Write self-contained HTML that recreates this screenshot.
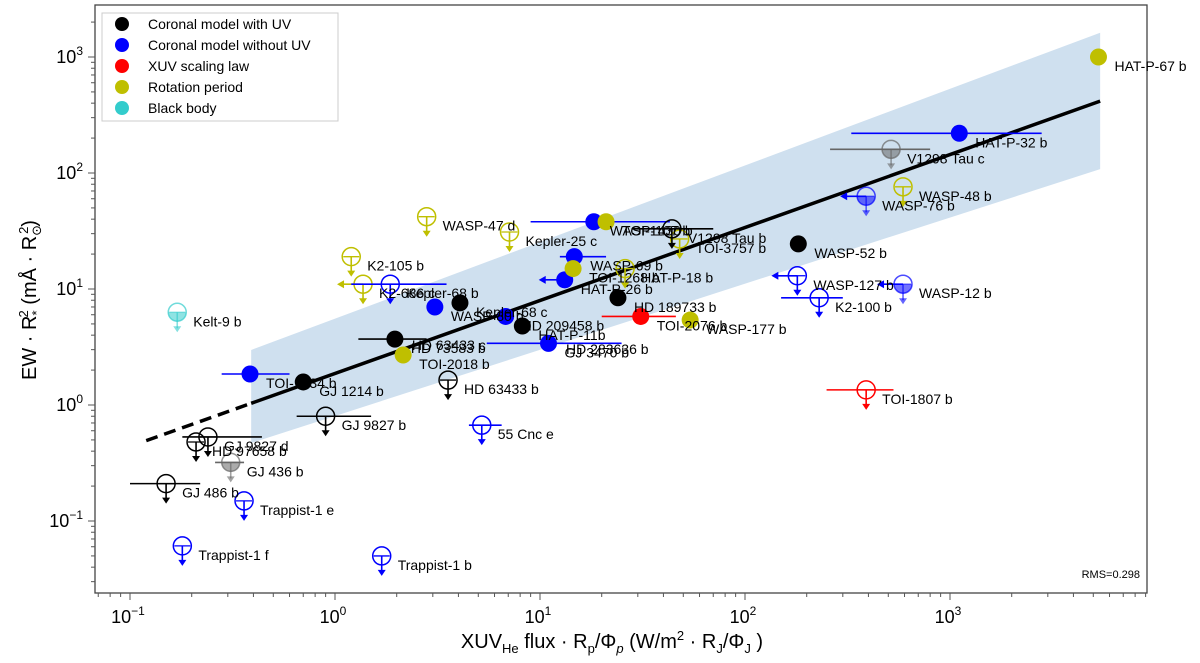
<!DOCTYPE html>
<html><head><meta charset="utf-8"><style>
body{margin:0;background:#fff;}
svg{display:block;font-family:"Liberation Sans","DejaVu Sans",sans-serif;}
</style></head><body>
<svg id="chart" width="1200" height="663" viewBox="0 0 1200 663">
<g id="band"></g>
<g id="axes"></g>
<g id="marks"></g>
<g id="labels"></g>
<g id="legend">
<rect x="102" y="13" width="236" height="108" fill="#fff" stroke="#ccc"/>
</g>
<text x="1140" y="578" font-size="11" text-anchor="end">RMS=0.298</text>
<text x="612" y="648" font-size="20" text-anchor="middle">XUV<tspan font-size="13" dy="5">He</tspan><tspan dy="-5"> flux · R</tspan><tspan font-size="13" dy="5">p</tspan><tspan dy="-5">/Φ</tspan><tspan font-size="13" dy="5" font-style="italic">p</tspan><tspan dy="-5"> (W/m</tspan><tspan font-size="13" dy="-8">2</tspan><tspan dy="8"> · R</tspan><tspan font-size="13" dy="5">J</tspan><tspan dy="-5">/Φ</tspan><tspan font-size="13" dy="5">J</tspan><tspan dy="-5"> )</tspan></text>
<text transform="translate(36,300) rotate(-90)" font-size="20" text-anchor="middle">EW · R<tspan font-size="13" dy="5">*</tspan><tspan font-size="13" dy="-13" dx="-7">2</tspan><tspan dy="8"> (mÅ · R</tspan><tspan font-size="13" dy="5">⊙</tspan><tspan font-size="13" dy="-13" dx="-9">2</tspan><tspan dy="8">)</tspan></text>
</svg>
<script>
const names=["TOI-1434 b","GJ 1214 b","HD 73583 b","WASP-80 b","HAT-P-11b","HD 189733 b","WASP-52 b","Kepler-68 c","HD 209458 b","GJ 3470 b","HAT-P-26 b","WASP-69 b","WASP-107 b","HAT-P-32 b","TOI-2076 b","TOI-2018 b","TOI-1268 b","TOI-1430 b","WASP-177 b","HAT-P-67 b","K2-105 b","K2-686 c","WASP-47 d","Kepler-25 c","HAT-P-18 b","TOI-3757 b","WASP-48 b","Trappist-1 e","Trappist-1 f","Trappist-1 b","55 Cnc e","Kepler-68 b","WASP-127 b","K2-100 b","WASP-76 b","WASP-12 b","GJ 9827 b","HD 63433 b","GJ 9827 d","HD 97658 b","GJ 486 b","GJ 436 b","V1298 Tau c","V1298 Tau b","Kelt-9 b","TOI-1807 b","HD 63433 c","HD 283636 b"];
const xVals=[0.385,0.70,1.96,3.07,8.2,24,182,4.07,6.8,11,13.2,14.7,18.3,1110,31,2.15,14.5,21,54,5300,1.2,1.37,2.8,7.1,26,48,590,0.36,0.18,1.69,5.2,1.86,180,230,390,590,0.9,3.56,0.24,0.21,0.15,0.31,516,44,0.17,390,2.37,13.4];
const yVals=[1.85,1.58,3.7,7.0,4.8,8.4,24.5,7.6,5.8,3.4,12,19,38,220,5.8,2.7,15,38,5.4,1000,19,11,42,31,15,27,76,0.149,0.061,0.05,0.67,11,13,8.4,63,11,0.8,1.64,0.53,0.48,0.21,0.32,160,33,6.3,1.35,2.98,2.75];
const kinds=["fill","fill","fill","fill","fill","fill","fill","fill","fill","fill","fill","fill","fill","fill","fill","fill","fill","fill","fill","fill","open","open","open","open","open","open","open","open","open","open","open","open","open","open","half","half","open","open","open","open","open","half","half","open","half","open","none","none"];
const colors=["blue","black","black","blue","black","black","black","black","blue","blue","blue","blue","blue","blue","red","y","y","y","y","y","y","y","y","y","y","y","y","blue","blue","blue","blue","blue","blue","blue","blue","blue","black","black","black","black","black","gray","gray","black","cyan","red","black","black"];
const xErrLo=[0.28,0,1.3,2.2,0,0,0,0,0,5.5,0,12.5,9,330,20,0,0,0,0,0,0,0,0,0,0,0,0,0,0,0,4.5,1.2,0,150,0,0,0.65,0,0.18,0,0.1,0.26,260,28,0,250,0,0];
const xErrHi=[0.6,0,2.8,0,0,0,195,0,0,25,0,21,43,2800,46,0,0,0,0,0,0,0,0,0,0,0,0,0,0,0,6.5,3.5,0,300,0,0,1.5,0,0.44,0,0.22,0.36,800,70,0,530,0,0];
const leftArrow=[0,0,0,0,0,0,0,0,0,0,1,0,0,0,0,0,0,0,0,0,0,1,0,0,0,0,0,0,0,0,0,0,1,0,1,1,0,0,0,0,0,0,0,0,0,0,0,0];
const legendLabels=["Coronal model with UV","Coronal model without UV","XUV scaling law","Rotation period","Black body"];
const legendColors=["black","blue","red","y","cyan"];
const xTickExp=[-1,0,1,2,3];
const yTickExp=[-1,0,1,2,3];
const fitX=[0.12,0.39,5400];
const fitSlope=0.629, fitAt1=1.87;
const bandX=[0.39,5400];
const bandTop=[2.98,1620];
const bandBot=[0.47,108];

const NS="http://www.w3.org/2000/svg";
const L=95,R=1147,T=5,B=593;
const sx=v=>335+205*Math.log10(v);
const sy=v=>405-116*Math.log10(v);
const C={black:"#000",blue:"#0000ff",red:"#ff0000",y:"#bfbf00",cyan:"#3cc",gray:"#666"};
function mk(p,tag,at){const e=document.createElementNS(NS,tag);for(const k in at)e.setAttribute(k,at[k]);p.appendChild(e);return e;}
const band=document.getElementById('band'),axes=document.getElementById('axes'),marks=document.getElementById('marks'),labels=document.getElementById('labels'),legend=document.getElementById('legend');

let pts=[];
bandX.forEach((v,i)=>pts.push(sx(v)+','+sy(bandTop[i])));
for(let i=bandX.length-1;i>=0;i--)pts.push(sx(bandX[i])+','+sy(bandBot[i]));
const bp=mk(band,'polygon',{points:pts.join(' '),fill:"#cfe0ef"});



const fr=mk(axes,'rect',{x:L,y:T,width:R-L,height:B-T,fill:"none",stroke:"#444","stroke-width":1.3});


for(let e=-2;e<=4;e++){for(let m=1;m<10;m++){const v=m*Math.pow(10,e);const x=sx(v);if(x>=L&&x<=R){const t=mk(axes,'line',{x1:x,x2:x,y1:B,y2:B+(m==1?7:4),stroke:"#555"});}
const y=sy(v);if(y>=T&&y<=B){const t=mk(axes,'line',{x1:L,x2:L-(m==1?7:4),y1:y,y2:y,stroke:"#555"});}}}
xTickExp.forEach(e=>{const t=mk(axes,'text',{x:sx(Math.pow(10,e))-2,y:B+30,"font-size":18,"text-anchor":"middle"});t.innerHTML=`10<tspan font-size="12" dy="-8">${e<0?'−'+(-e):e}</tspan>`;});
yTickExp.forEach(e=>{const t=mk(axes,'text',{x:L-12,y:sy(Math.pow(10,e))+6,"font-size":18,"text-anchor":"end"});t.innerHTML=`10<tspan font-size="12" dy="-8">${e<0?'−'+(-e):e}</tspan>`;});

const f=v=>fitAt1*Math.pow(v,fitSlope);
const d1=mk(marks,'line',{x1:sx(fitX[0]),y1:sy(f(fitX[0])),x2:sx(fitX[1]),y2:sy(f(fitX[1])),stroke:"#000","stroke-width":3.5,"stroke-dasharray":"12,7"});


const d2=mk(marks,'line',{x1:sx(fitX[1]),y1:sy(f(fitX[1])),x2:sx(fitX[2]),y2:sy(f(fitX[2])),stroke:"#000","stroke-width":3.5});



names.forEach((n,i)=>{
 const k=kinds[i];const x=sx(xVals[i]),y=sy(yVals[i]);const c=C[colors[i]];
 const g=mk(marks,'g',{});
 
 
 if(k!=='none'){
  if(xErrLo[i]&&xErrHi[i]) mk(g,'line',{x1:sx(xErrLo[i]),x2:sx(xErrHi[i]),y1:y,y2:y,stroke:c,"stroke-width":1.6});
  else if(xErrHi[i]) mk(g,'line',{x1:x,x2:sx(xErrHi[i]),y1:y,y2:y,stroke:c,"stroke-width":1.6});
  if(leftArrow[i]){mk(g,'line',{x1:x,x2:x-22,y1:y,y2:y,stroke:c,"stroke-width":1.6});mk(g,'polygon',{points:`${x-26},${y} ${x-19},${y-4} ${x-19},${y+4}`,fill:c});}
  if(k==='fill'){mk(g,'circle',{cx:x,cy:y,r:8.5,fill:c});}
  else{
   mk(g,'line',{x1:x,x2:x,y1:y,y2:y+16,stroke:c,"stroke-width":1.6,opacity:k==='half'?0.6:1});
   mk(g,'polygon',{points:`${x-4},${y+14} ${x+4},${y+14} ${x},${y+20}`,fill:c,opacity:k==='half'?0.6:1});
   if(k==='half') mk(g,'path',{d:`M${x-9},${y} A9,9 0 0 0 ${x+9},${y} Z`,fill:c,opacity:0.55});
   mk(g,'line',{x1:x-8,x2:x+8,y1:y,y2:y,stroke:c,"stroke-width":1.3,opacity:k==='half'?0.6:1});
   mk(g,'circle',{cx:x,cy:y,r:9,fill:"none",stroke:c,"stroke-width":1.5,opacity:k==='half'?0.7:1});
  }
 }
 const t=mk(labels,'text',{x:x+(k==='none'?0:16),y:y+(k==='none'?0:14),"font-size":14,fill:"#000"});
 t.textContent=n;
 
 
});

legendLabels.forEach((s,i)=>{
 const y=24+i*21;
 const c=mk(legend,'circle',{cx:122,cy:y,r:7,fill:C[legendColors[i]]});
 
 
 const t=mk(legend,'text',{x:148,y:y+5,"font-size":14});
 t.textContent=s;
 
 
});
</script>
</body></html>
